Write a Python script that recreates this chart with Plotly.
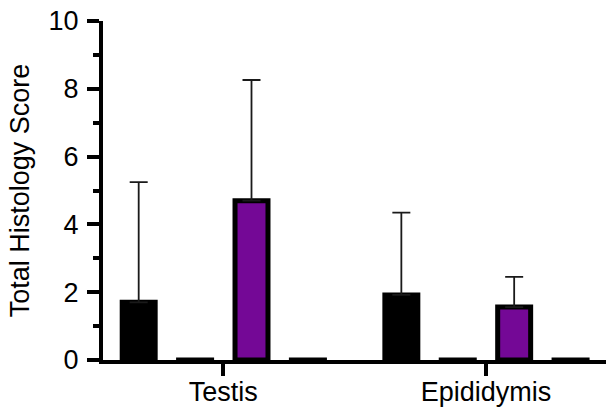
import plotly.graph_objects as go

categories = ["Testis", "Epididymis"]
series_names = ["Group A", "Group B", "Group C", "Group D"]
means_a = [1.7, 1.92]
sd_a = [3.55, 2.43]
means_b = [0.05, 0.05]
sd_b = [0, 0]
means_c = [4.7, 1.56]
sd_c = [3.56, 0.89]
means_d = [0.05, 0.05]
sd_d = [0, 0]

fills = ["black", "black", "#740896", "black"]
line_widths = [5, 1.5, 5, 1.5]
bar_widths = [0.1255, 0.139, 0.1255, 0.139]

FONT = "Liberation Sans, Arial, sans-serif"

fig = go.Figure()
for name, m, s, fc, lw, bw in zip(series_names,
                                   [means_a, means_b, means_c, means_d],
                                   [sd_a, sd_b, sd_c, sd_d],
                                   fills, line_widths, bar_widths):
    fig.add_trace(go.Bar(
        x=categories, y=m, name=name, width=bw,
        marker=dict(color=fc, line=dict(color="black", width=lw)),
        error_y=dict(type="data", array=s, arrayminus=[0] * len(s), symmetric=False,
                     color="#1a1a1a", thickness=1.8, width=9,
                     visible=any(v > 0 for v in s)),
    ))

fig.update_layout(
    width=608, height=410,
    margin=dict(l=103, r=2, t=21, b=50),
    paper_bgcolor="white", plot_bgcolor="white",
    barmode="group", bargap=0.141, bargroupgap=0,
    showlegend=False,
    font=dict(family=FONT, size=27, color="black"),
)
fig.update_xaxes(
    range=[-0.458, 1.457], automargin=False,
    showline=True, linecolor="black", linewidth=4,
    ticks="outside", ticklen=12, tickwidth=3.5, tickcolor="black",
    ticklabelstandoff=-7,
    showgrid=False, zeroline=False,
    tickfont=dict(family=FONT, size=27, color="black"),
)
fig.update_yaxes(
    range=[0, 10], automargin=False,
    tickvals=[0, 2, 4, 6, 8, 10],
    showline=True, linecolor="black", linewidth=4,
    ticks="outside", ticklen=12, tickwidth=3.5, tickcolor="black",
    ticklabelstandoff=3,
    minor=dict(tickvals=[1, 3, 5, 7, 9], ticks="outside", ticklen=6, tickwidth=3.5, tickcolor="black"),
    showgrid=False, zeroline=False,
    tickfont=dict(family=FONT, size=27, color="black"),
    title=dict(text="Total Histology Score", font=dict(family=FONT, size=27, color="black"), standoff=12),
)

fig.write_html("out.html")
